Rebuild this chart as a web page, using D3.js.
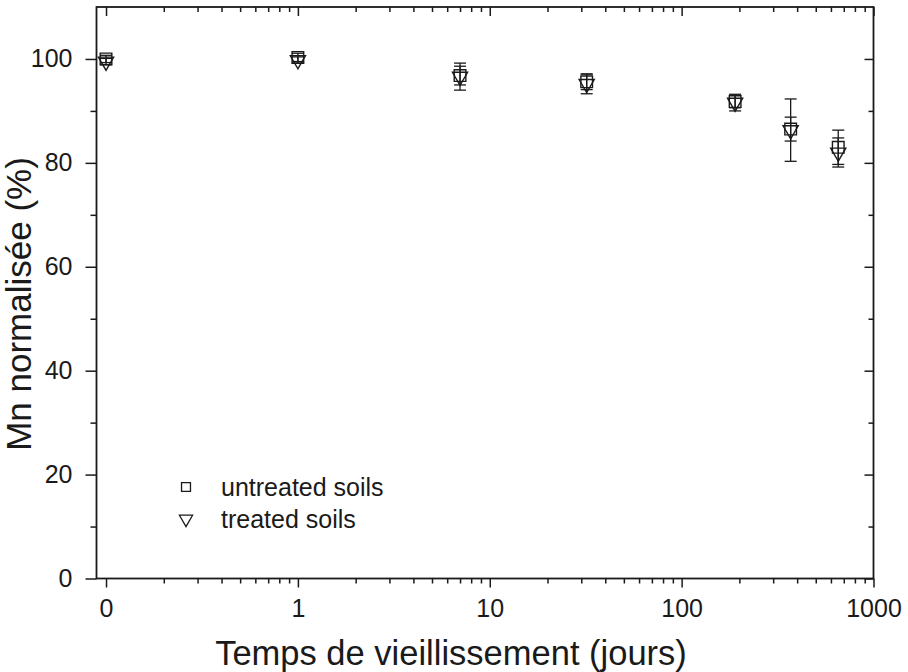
<!DOCTYPE html>
<html><head><meta charset="utf-8">
<script src="https://cdn.jsdelivr.net/npm/d3@7"></script>
<style>body{margin:0;background:#fff}svg text{font-family:Arial,"Liberation Sans",sans-serif;fill:#1a1a1a}</style>
</head><body><svg id="c" width="908" height="672"></svg>
<script>
const days = [0, 1, 7, 32, 190, 370, 655];
const untreated = [100.0, 100.3, 96.8, 95.6, 91.8, 86.5, 83.0];
const untreatedErr = [0.7, 0.8, 1.8, 1.5, 1.2, 2.3, 3.3];
const treated = [99.5, 99.8, 96.6, 95.2, 91.6, 86.3, 82.0];
const treatedErr = [0.6, 0.6, 2.6, 1.9, 1.6, 6.0, 2.8];
const xTickValues = [0.1, 1, 10, 100, 1000];
const xTickLabels = ["0", "1", "10", "100", "1000"];
const yTicks = [0, 20, 40, 60, 80, 100];
const seriesNames = ["untreated soils", "treated soils"];

const svg = d3.select("#c");
const L = 96.5, R = 873.5, T = 7, B = 578.5;
const x = d3.scaleLog().domain([0.0892, 1000]).range([L, R]);
const y = d3.scaleLinear().domain([0, 110]).range([B, T]);
const xp = d => x(d === 0 ? 0.1 : d);

const minorX = [];
[0.1, 1, 10, 100].forEach(b => { for (let k = 2; k <= 9; k++) minorX.push(b * k); });
const minorY = [10, 30, 50, 70, 90];

const ink = "#1a1a1a";
// bottom axis (outward)
svg.append("g").attr("transform", `translate(0,${B})`)
  .call(d3.axisBottom(x).tickValues(xTickValues).tickFormat((d, i) => xTickLabels[i]).tickSize(9).tickPadding(12).tickSizeOuter(0));
svg.append("g").attr("transform", `translate(0,${B})`)
  .call(d3.axisBottom(x).tickValues(minorX).tickFormat("").tickSize(5).tickSizeOuter(0));
// top axis (inward)
svg.append("g").attr("transform", `translate(0,${T})`)
  .call(d3.axisBottom(x).tickValues(xTickValues).tickFormat("").tickSize(9).tickSizeOuter(0));
svg.append("g").attr("transform", `translate(0,${T})`)
  .call(d3.axisBottom(x).tickValues(minorX).tickFormat("").tickSize(5).tickSizeOuter(0));
// left axis (outward)
svg.append("g").attr("transform", `translate(${L},0)`)
  .call(d3.axisLeft(y).tickValues(yTicks).tickFormat(d3.format("d")).tickSize(11).tickPadding(13).tickSizeOuter(0));
svg.append("g").attr("transform", `translate(${L},0)`)
  .call(d3.axisLeft(y).tickValues(minorY).tickFormat("").tickSize(6).tickSizeOuter(0));
// right axis (inward)
svg.append("g").attr("transform", `translate(${R},0)`)
  .call(d3.axisLeft(y).tickValues(yTicks).tickFormat("").tickSize(9).tickSizeOuter(0));
svg.append("g").attr("transform", `translate(${R},0)`)
  .call(d3.axisLeft(y).tickValues(minorY).tickFormat("").tickSize(5).tickSizeOuter(0));

svg.selectAll(".domain").remove();
svg.selectAll(".tick line").attr("stroke", ink).attr("stroke-width", 1.5);
svg.selectAll(".tick text").attr("font-size", 25).style("font-family", "Arial, 'Liberation Sans', sans-serif").attr("fill", ink);

svg.append("rect").attr("x", L).attr("y", T).attr("width", R - L).attr("height", B - T)
  .attr("fill", "none").attr("stroke", ink).attr("stroke-width", 1.8);

// data
function errBars(vals, errs) {
  const g = svg.append("g").attr("stroke", ink).attr("stroke-width", 1.3).attr("fill", "none");
  days.forEach((d, i) => {
    const cx = xp(d), y1 = y(vals[i] + errs[i]), y2 = y(vals[i] - errs[i]);
    g.append("line").attr("x1", cx).attr("x2", cx).attr("y1", y1).attr("y2", y2);
    g.append("line").attr("x1", cx - 6).attr("x2", cx + 6).attr("y1", y1).attr("y2", y1);
    g.append("line").attr("x1", cx - 6).attr("x2", cx + 6).attr("y1", y2).attr("y2", y2);
  });
}
errBars(untreated, untreatedErr);
errBars(treated, treatedErr);

const sq = d3.symbol().type(d3.symbolSquare).size(135);
const tri = d3.symbol().type(d3.symbolTriangle).size(100);
svg.append("g").selectAll("path").data(untreated).join("path")
  .attr("d", sq).attr("transform", (v, i) => `translate(${xp(days[i])},${y(v)})`)
  .attr("fill", "none").attr("stroke", ink).attr("stroke-width", 1.4);
svg.append("g").selectAll("path").data(treated).join("path")
  .attr("d", tri).attr("transform", (v, i) => `translate(${xp(days[i])},${y(v)}) rotate(180)`)
  .attr("fill", "none").attr("stroke", ink).attr("stroke-width", 1.4);

// legend
const lg = svg.append("g");
lg.append("path").attr("d", d3.symbol().type(d3.symbolSquare).size(80)).attr("transform", "translate(186,487)")
  .attr("fill", "none").attr("stroke", ink).attr("stroke-width", 1.3);
lg.append("path").attr("d", d3.symbol().type(d3.symbolTriangle).size(75)).attr("transform", "translate(186,519) rotate(180)")
  .attr("fill", "none").attr("stroke", ink).attr("stroke-width", 1.3);
lg.append("text").attr("x", 221).attr("y", 496).attr("font-size", 25).text(seriesNames[0]);
lg.append("text").attr("x", 221).attr("y", 528).attr("font-size", 25).text(seriesNames[1]);

// titles
svg.append("text").attr("x", 451).attr("y", 665).attr("text-anchor", "middle").attr("font-size", 34.5)
  .text("Temps de vieillissement (jours)");
svg.append("text").attr("transform", "translate(31,304) rotate(-90)").attr("text-anchor", "middle").attr("font-size", 35)
  .text("Mn normalisée (%)");
</script></body></html>
